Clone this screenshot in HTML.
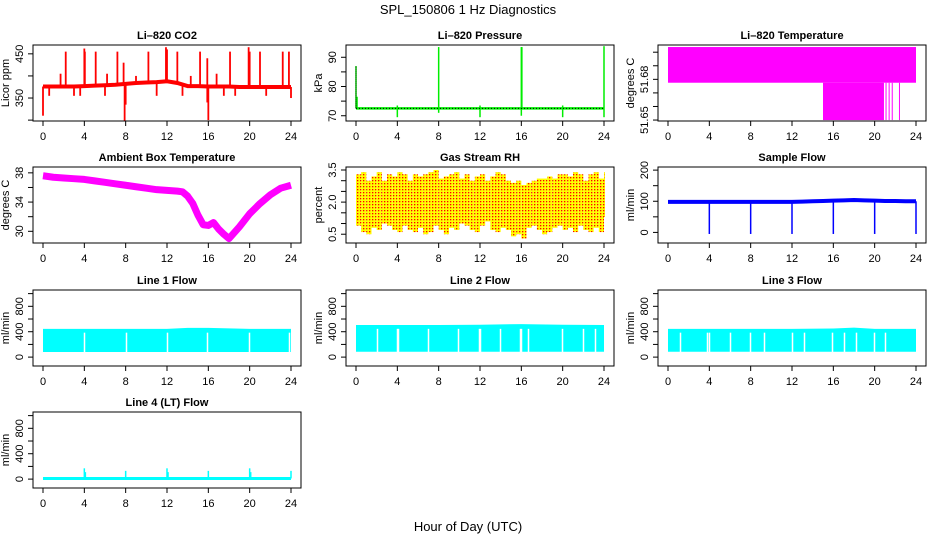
<!DOCTYPE html>
<html><head><meta charset="utf-8"><style>
html,body{margin:0;padding:0;background:#fff;width:936px;height:540px;overflow:hidden}
svg{display:block;font-family:"Liberation Sans",sans-serif}
</style></head><body>
<svg id="chart" width="936" height="540" viewBox="0 0 936 540" xmlns="http://www.w3.org/2000/svg">
<defs>
<pattern id="rhpat" width="3" height="3" patternUnits="userSpaceOnUse">
<rect width="3" height="3" fill="#ffff00"/><rect x="0" y="0" width="1.3" height="1.3" fill="#ff0000"/>
</pattern>
</defs>
<text x="468" y="14" text-anchor="middle" font-size="13">SPL_150806  1 Hz Diagnostics</text>
<text x="468" y="531" text-anchor="middle" font-size="13">Hour of Day (UTC)</text>
</svg>
<script>
// ---------- data ----------
const hours = [0,1,2,3,4,5,6,7,8,9,10,11,12,13,14,15,16,17,18,19,20,21,22,23,24];
const co2Base = [376,376,376,376,377,378,379,380,382,384,385,386,388,384,377,377,376,376,376,375,375,375,375,375,375];
const co2SpikeHours = [2.2,4.0,4.05,5.1,7.2,7.8,10.2,11.9,12.0,13.0,15.2,15.9,18.1,19.9,20.0,21.0,23.2,23.8,1.7,6.2,9.0,14.3,16.8,0.0,7.9,8.0,15.9,16.0,0.6,3.0,3.6,6.0,11.0,13.5,17.5,18.6,21.6,24.0];
const co2SpikeVals  = [455,462,455,455,455,430,455,465,460,455,455,440,455,465,455,455,455,455,405,405,400,400,405,310,298,335,340,300,355,355,355,355,355,355,355,355,355,350];
const presBase = 72.5;
const presSpikeHours = [0,0.1,8,16,16.05,24,4,12,20,4,12,20,8,16,24];
const presSpikeVals  = [87,76.5,93.5,93.5,93.5,93.8,69.5,69.5,69.5,73.5,73.5,73.5,71,70,69.5];
const tempBandHi = 51.7038;
const tempBandLo = 51.6775;
const tempDropStart = 15.0;
const tempDropEnd = 20.9;
const tempDropHours = [21.1,21.4,21.7,22.4];
const tempFloor = 51.6500;
const ambHours = [0,1,2,3,4,5,6,7,8,9,10,11,12,13,13.5,14,14.5,15,15.5,16,16.5,17,17.5,18,19,20,21,22,23,24];
const ambVals  = [37.6,37.4,37.3,37.2,37.1,36.9,36.7,36.5,36.3,36.1,35.9,35.7,35.6,35.5,35.4,34.8,33.8,32.2,30.9,30.8,31.2,30.3,29.6,29.0,30.6,32.4,33.8,35.0,35.9,36.3];
const rhHi = [3.3,3.4,3.0,3.2,3.4,3.0,3.3,3.2,3.4,3.3,3.0,3.3,3.2,3.3,3.4,3.5,3.1,3.2,3.3,3.4,3.1,3.3,3.0,3.2,3.3,3.0,3.2,3.4,3.3,3.0,2.9,3.0,2.8,2.9,3.0,3.1,3.1,3.2,3.1,3.3,3.3,3.2,3.4,3.3,3.0,3.3,3.4,3.1,3.4];
const rhLo = [0.9,0.6,0.5,0.8,0.7,1.0,0.9,0.7,0.6,0.9,0.7,0.6,0.8,0.5,0.6,0.9,0.7,0.5,0.8,0.7,1.0,0.9,0.7,0.6,0.9,1.1,0.7,0.6,0.8,0.7,0.4,0.5,0.3,0.8,0.9,0.7,0.5,0.6,0.8,0.9,0.7,0.8,0.6,0.9,0.7,0.6,0.8,0.6,1.3];
const sampleBase = [98,98,98,98,98,98,98,98,98,98,98,98,98,99,100,101,102,103,104,103,102,101,101,100,100];
const sampleDropHours = [4,8,12,16,20,24];
const sampleDropVals = [-5,-5,-5,-5,-5,-5];
const l1Hours = [0,4,8,12,14,16,20,24];
const l1Hi = [445,445,445,445,460,460,445,445];
const l1Lo = [80,80,80,80,80,80,80,80];
const l1Gaps = [4.0,8.0,12.0,15.9,19.9,23.8];
const l2Hours = [0,4,8,12,16,20,24];
const l2Hi = [505,505,505,510,520,510,505];
const l2Lo = [85,85,85,85,85,85,85];
const l2Gaps = [2.0,4.0,4.1,7.0,9.9,11.9,12.0,13.9,15.9,16.0,16.6,19.9,22.0,23.1];
const l3Hours = [0,4,8,12,16,18,20,24];
const l3Hi = [445,445,445,445,450,465,445,445];
const l3Lo = [85,85,85,85,85,85,85,85];
const l3Gaps = [1.2,3.8,4.0,6.0,7.9,9.3,12.0,13.2,15.9,17.0,18.2,19.9,21.0];
const l4Base = 10;
const l4SpikeHours = [4.0,4.1,8.0,12.0,12.1,16.0,20.0,20.1,24.0];
const l4SpikeVals  = [170,110,130,170,110,130,170,110,130];

// ---------- layout ----------
const svg = document.getElementById('chart');
const NS = 'http://www.w3.org/2000/svg';
const colLeft = [33,346,658];
const rowTop = [45,167,290,412];
const BW = 268, BH = 76;
function mk(tag, attrs, parent){
  const e = document.createElementNS(NS, tag);
  for (const k in attrs) e.setAttribute(k, attrs[k]);
  (parent||svg).appendChild(e);
  return e;
}
function panel(p){
  const L = colLeft[p.col], T = rowTop[p.row], B = T+BH;
  const g = mk('g', {});
  
  
  const sx = h => L + 10 + h*(248/24);
  const sy = v => B - (v - p.ymin)/(p.ymax - p.ymin)*BH;
  const t = mk('text', {x: L+BW/2, y: T-6, 'text-anchor':'middle', 'font-size':11, 'font-weight':'bold'}, g);
  t.textContent = p.title;
  
  
  const xa = mk('g', {stroke:'#000', 'stroke-width':1}, g);
  
  
  mk('line', {x1:sx(0), x2:sx(24), y1:B, y2:B}, xa);
  for (let h=0; h<=24; h+=4){
    mk('line', {x1:sx(h), x2:sx(h), y1:B, y2:B+5}, xa);
    const tl = mk('text', {x:sx(h), y:B+19, 'text-anchor':'middle', 'font-size':11, stroke:'none'}, xa);
    tl.textContent = h;
    
    
  }
  const ya = mk('g', {stroke:'#000', 'stroke-width':1}, g);
  
  
  mk('line', {x1:L, x2:L, y1:sy(p.ticks[0]), y2:sy(p.ticks[p.ticks.length-1])}, ya);
  p.ticks.forEach(v => mk('line', {x1:L-5, x2:L, y1:sy(v), y2:sy(v)}, ya));
  p.labels.forEach(v => {
    const y = sy(v), x = L-10;
    const tl = mk('text', {x:x, y:y, 'text-anchor':'middle', 'font-size':11, stroke:'none', transform:`rotate(-90 ${x} ${y})`}, ya);
    tl.textContent = p.fmt ? p.fmt(v) : v;
    
    
  });
  const yx = L-24, yy = T+BH/2;
  const yt = mk('text', {x:yx, y:yy, 'text-anchor':'middle', 'font-size':11, transform:`rotate(-90 ${yx} ${yy})`}, g);
  yt.textContent = p.ylab;
  
  
  const clip = 'clip-' + p.name;
  const cp = mk('clipPath', {id:clip}, g);
  mk('rect', {x:L, y:T, width:BW, height:BH}, cp);
  const data = mk('g', {'clip-path':`url(#${clip})`}, g);
  
  
  p.draw(data, sx, sy);
  const box = mk('rect', {x:L, y:T, width:BW, height:BH, fill:'none', stroke:'#000', 'stroke-width':1}, g);
  
  
}
function vline(g, x, y1, y2, col, w){ return mk('line', {x1:x, x2:x, y1:y1, y2:y2, stroke:col, 'stroke-width':w}, g); }
function band(g, sx, sy, hs, hi, lo, col, gaps){
  let d = 'M' + hs.map((h,i)=>sx(h)+','+sy(hi[i])).join(' L');
  for (let i=hs.length-1;i>=0;i--) d += ' L' + sx(hs[i]) + ',' + sy(lo[i]);
  const b = mk('path', {d:d+'Z', fill:col, stroke:'none'}, g);
  
  if (gaps) gaps.forEach(h => {
    const gl = vline(g, Math.round(sx(h))+0.5, sy(lo[0])+1, sy(hi[0]-60), '#fff', 1.5);
    
  });
}

panel({name:'co2', col:0,row:0,title:'Li\u2013820 CO2', ylab:'Licor ppm', ymin:298,ymax:470, ticks:[300,350,400,450], labels:[350,450],
  draw:(g,sx,sy)=>{
    co2SpikeHours.forEach((h,i)=>{
      const s = vline(g, sx(h), sy(co2Base[Math.min(24,Math.round(h))]), sy(co2SpikeVals[i]), '#ff0000', 1.8);
      
    });
    const l = mk('polyline', {points:hours.map((h,i)=>sx(h)+','+sy(co2Base[i])).join(' '), fill:'none', stroke:'#ff0000', 'stroke-width':4}, g);
    
  }});
panel({name:'pressure', col:1,row:0,title:'Li\u2013820 Pressure', ylab:'kPa', ymin:68.2,ymax:94.2, ticks:[70,75,80,85,90], labels:[70,80,90],
  draw:(g,sx,sy)=>{
    const b = mk('line', {x1:sx(0), x2:sx(24), y1:sy(presBase), y2:sy(presBase), stroke:'#00ee00', 'stroke-width':2.5}, g);
    
    presSpikeHours.forEach((h,i)=>{
      const s = vline(g, sx(h), sy(presBase), sy(presSpikeVals[i]), '#00ee00', 1.5);
      
    });
    const d = mk('line', {x1:sx(0), x2:sx(24), y1:sy(presBase), y2:sy(presBase), stroke:'#000', 'stroke-width':1, 'stroke-dasharray':'1,2'}, g);
    
    const d0 = vline(g, sx(0), sy(presBase), sy(presSpikeVals[0]), '#000', 1);
    d0.setAttribute('stroke-dasharray', '1,1');
    
  }});
panel({name:'li820-temperature', col:2,row:0,title:'Li\u2013820 Temperature', ylab:'degrees C', ymin:51.6493,ymax:51.7053, ticks:[51.65,51.66,51.67,51.68,51.69,51.70], labels:[51.65,51.68], fmt:v=>v.toFixed(2),
  draw:(g,sx,sy)=>{
    const r = mk('rect', {x:sx(0), y:sy(tempBandHi), width:sx(24)-sx(0), height:sy(tempBandLo)-sy(tempBandHi), fill:'#ff00ff'}, g);
    
    const r2 = mk('rect', {x:sx(tempDropStart), y:sy(tempBandLo), width:sx(tempDropEnd)-sx(tempDropStart), height:sy(tempFloor)-sy(tempBandLo), fill:'#ff00ff'}, g);
    
    tempDropHours.forEach(h=>{
      const s = vline(g, sx(h), sy(tempBandLo), sy(tempFloor), '#ff00ff', 1);
      
    });
  }});
panel({name:'ambient-temperature', col:0,row:1,title:'Ambient Box Temperature', ylab:'degrees C', ymin:28.4,ymax:38.8, ticks:[30,32,34,36,38], labels:[30,34,38],
  draw:(g,sx,sy)=>{
    const l = mk('polyline', {points:ambHours.map((h,i)=>sx(h)+','+sy(ambVals[i])).join(' '), fill:'none', stroke:'#ff00ff', 'stroke-width':7, 'stroke-linejoin':'round'}, g);
    
  }});
panel({name:'gas-stream-rh', col:1,row:1,title:'Gas Stream RH', ylab:'percent', ymin:0.09,ymax:3.64, ticks:[0.5,1,1.5,2,2.5,3,3.5], labels:[0.5,2.0,3.5], fmt:v=>v.toFixed(1),
  draw:(g,sx,sy)=>{
    rhHi.forEach((v,i)=>{
      const x = sx(i*0.5);
      const r = mk('rect', {x:x, y:sy(v), width:Math.max(1,sx(Math.min(24,i*0.5+0.5))-x), height:sy(rhLo[i])-sy(v), fill:'url(#rhpat)'}, g);
      
    });
  }});
panel({name:'sample-flow', col:2,row:1,title:'Sample Flow', ylab:'ml/min', ymin:-34,ymax:210, ticks:[0,50,100,150,200], labels:[0,100,200],
  draw:(g,sx,sy)=>{
    sampleDropHours.forEach((h,i)=>{
      const s = vline(g, sx(h), sy(sampleBase[h]), sy(sampleDropVals[i]), '#0000ff', 1.5);
      
    });
    const l = mk('polyline', {points:hours.map((h,i)=>sx(h)+','+sy(sampleBase[i])).join(' '), fill:'none', stroke:'#0000ff', 'stroke-width':4}, g);
    
  }});
const flowTicks = [0,200,400,600,800,1000], flowLabels = [0,400,800];
panel({name:'line1-flow', col:0,row:2,title:'Line 1 Flow', ylab:'ml/min', ymin:-140,ymax:1057, ticks:flowTicks, labels:flowLabels,
  draw:(g,sx,sy)=>band(g,sx,sy,l1Hours,l1Hi,l1Lo,'#00ffff',l1Gaps)});
panel({name:'line2-flow', col:1,row:2,title:'Line 2 Flow', ylab:'ml/min', ymin:-140,ymax:1057, ticks:flowTicks, labels:flowLabels,
  draw:(g,sx,sy)=>band(g,sx,sy,l2Hours,l2Hi,l2Lo,'#00ffff',l2Gaps)});
panel({name:'line3-flow', col:2,row:2,title:'Line 3 Flow', ylab:'ml/min', ymin:-140,ymax:1057, ticks:flowTicks, labels:flowLabels,
  draw:(g,sx,sy)=>band(g,sx,sy,l3Hours,l3Hi,l3Lo,'#00ffff',l3Gaps)});
panel({name:'line4-flow', col:0,row:3,title:'Line 4 (LT) Flow', ylab:'ml/min', ymin:-140,ymax:1057, ticks:flowTicks, labels:flowLabels,
  draw:(g,sx,sy)=>{
    l4SpikeHours.forEach((h,i)=>{
      const s = vline(g, sx(h), sy(l4Base), sy(l4SpikeVals[i]), '#00ffff', 1.5);
      
    });
    const l = mk('line', {x1:sx(0), x2:sx(24), y1:sy(l4Base), y2:sy(l4Base), stroke:'#00ffff', 'stroke-width':3}, g);
    
  }});
</script>
</body></html>
